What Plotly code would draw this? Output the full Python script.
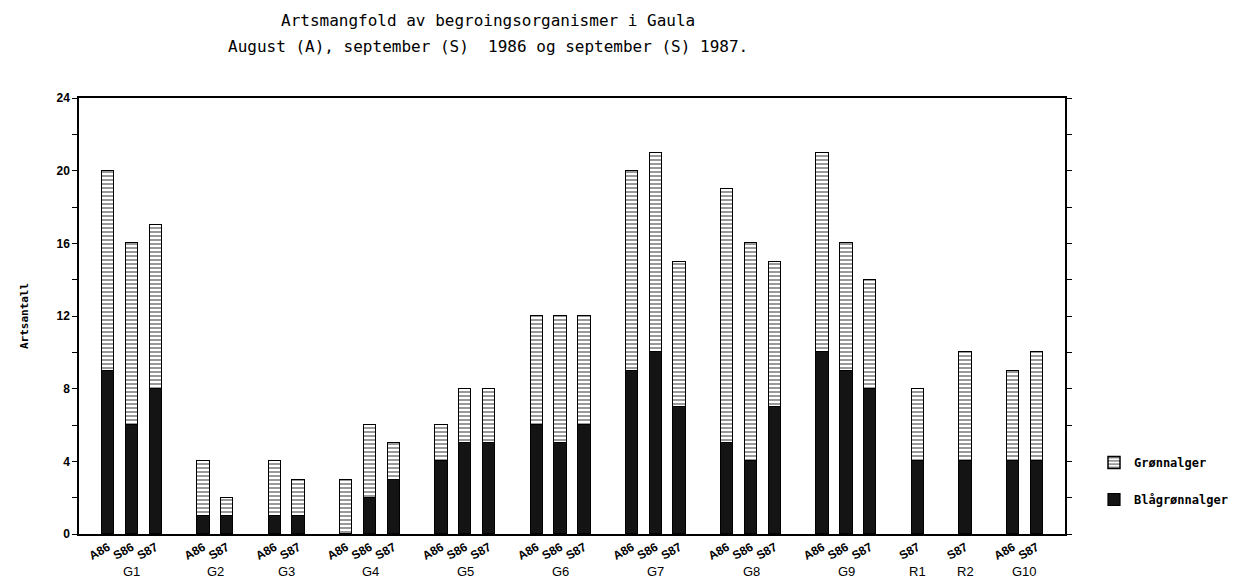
import plotly.graph_objects as go

# ---------------- data ----------------
groups = ["G1", "G2", "G3", "G4", "G5", "G6", "G7", "G8", "G9", "R1", "R2", "G10"]
samples = [
    ["A86", "S86", "S87"],
    ["A86", "S87"],
    ["A86", "S87"],
    ["A86", "S86", "S87"],
    ["A86", "S86", "S87"],
    ["A86", "S86", "S87"],
    ["A86", "S86", "S87"],
    ["A86", "S86", "S87"],
    ["A86", "S86", "S87"],
    ["S87"],
    ["S87"],
    ["A86", "S87"],
]
# Blågrønnalger (black, bottom)
blagronnalger = [
    [9, 6, 8], [1, 1], [1, 1], [0, 2, 3], [4, 5, 5], [6, 5, 6],
    [9, 10, 7], [5, 4, 7], [10, 9, 8], [4], [4], [4, 4],
]
# Grønnalger (hatched, top)
gronnalger = [
    [11, 10, 9], [3, 1], [3, 2], [3, 4, 2], [2, 3, 3], [6, 7, 6],
    [11, 11, 8], [14, 12, 8], [11, 7, 6], [4], [6], [5, 6],
]
y_ticks = [0, 2, 4, 6, 8, 10, 12, 14, 16, 18, 20, 22, 24]

# --------------- category slots (one empty slot between groups) ---------------
xs, labels, blue, green, group_centers = [], [], [], [], []
pos = 0
for g, smp, b, gr in zip(groups, samples, blagronnalger, gronnalger):
    start = pos
    for s, bv, gv in zip(smp, b, gr):
        xs.append(pos)
        labels.append(s)
        blue.append(bv)
        green.append(gv)
        pos += 1
    group_centers.append((start + pos - 1) / 2)
    pos += 1

mono = "DejaVu Sans Mono"
sans = "Liberation Sans"

# page geometry (the page body adds an 8px offset)
W, H = 1245, 580
OFF = 8
PL, PR, PT, PB = 79, 1065, 98, 534          # desired plot box in window pixels
L = PL - OFF
T = PT - OFF
pw, ph = PR - PL, PB - PT
R = W - L - pw
B = H - T - ph


def px_x(x):
    return (x - PL) / pw


def px_y(y):
    return (PB - y) / ph


fig = go.Figure()
fig.add_trace(go.Bar(
    x=xs, y=blue, name="Blågrønnalger", width=0.52, legendgroup="b", legendrank=2,
    marker=dict(color="#141414", line=dict(color="black", width=1.2)),
))
fig.add_trace(go.Bar(
    x=xs, y=green, name="Grønnalger", width=0.52, legendgroup="g", legendrank=1,
    marker=dict(color="white", line=dict(color="black", width=1.5),
                pattern=dict(shape="-", size=4, solidity=0.4, fgcolor="black", bgcolor="white")),
))

annotations = []
for text, yy in [("Artsmangfold av begroingsorganismer i Gaula", 20),
                 ("August (A), september (S)  1986 og september (S) 1987.", 47)]:
    annotations.append(dict(text=text, x=px_x(488), y=px_y(yy), xref="paper", yref="paper",
                            showarrow=False, xanchor="center", yanchor="middle",
                            font=dict(family=mono, size=16, color="black")))

for g, c in zip(groups, group_centers):
    annotations.append(dict(text=g, x=c, y=px_y(571), xref="x", yref="paper", showarrow=False,
                            xanchor="center", yanchor="middle",
                            font=dict(family=sans, size=13, color="black")))

fig.update_layout(
    width=W, height=H,
    barmode="stack",
    plot_bgcolor="white", paper_bgcolor="white",
    margin=dict(l=L, r=R, t=T, b=B, autoexpand=False),
    annotations=annotations,
    showlegend=True,
    legend=dict(x=px_x(1094), y=px_y(448), xanchor="left", yanchor="top",
                font=dict(family=mono, size=12, color="black", weight="bold"),
                tracegroupgap=18, traceorder="grouped",
                bgcolor="rgba(0,0,0,0)"),
    bargap=0,
)
fig.update_xaxes(
    range=[-1.22, 40.18],
    tickvals=xs, ticktext=labels, tickangle=-30,
    tickfont=dict(family=sans, size=12, color="black", weight="bold"),
    showline=True, linecolor="black", linewidth=1.5, mirror=True,
    ticks="", showgrid=False, zeroline=False,
)
fig.update_yaxes(
    range=[0, 24],
    tickvals=y_ticks, ticktext=[str(v) if v % 4 == 0 else "" for v in y_ticks],
    tickfont=dict(family=sans, size=12, color="black", weight="bold"),
    ticks="outside", ticklen=5, tickcolor="black", tickwidth=1,
    showline=True, linecolor="black", linewidth=1.5, mirror="ticks",
    showgrid=False, zeroline=False,
    title=dict(text="Artsantall", standoff=26,
               font=dict(family=mono, size=11, color="black", weight="bold")),
)

fig.write_html("out.html")
